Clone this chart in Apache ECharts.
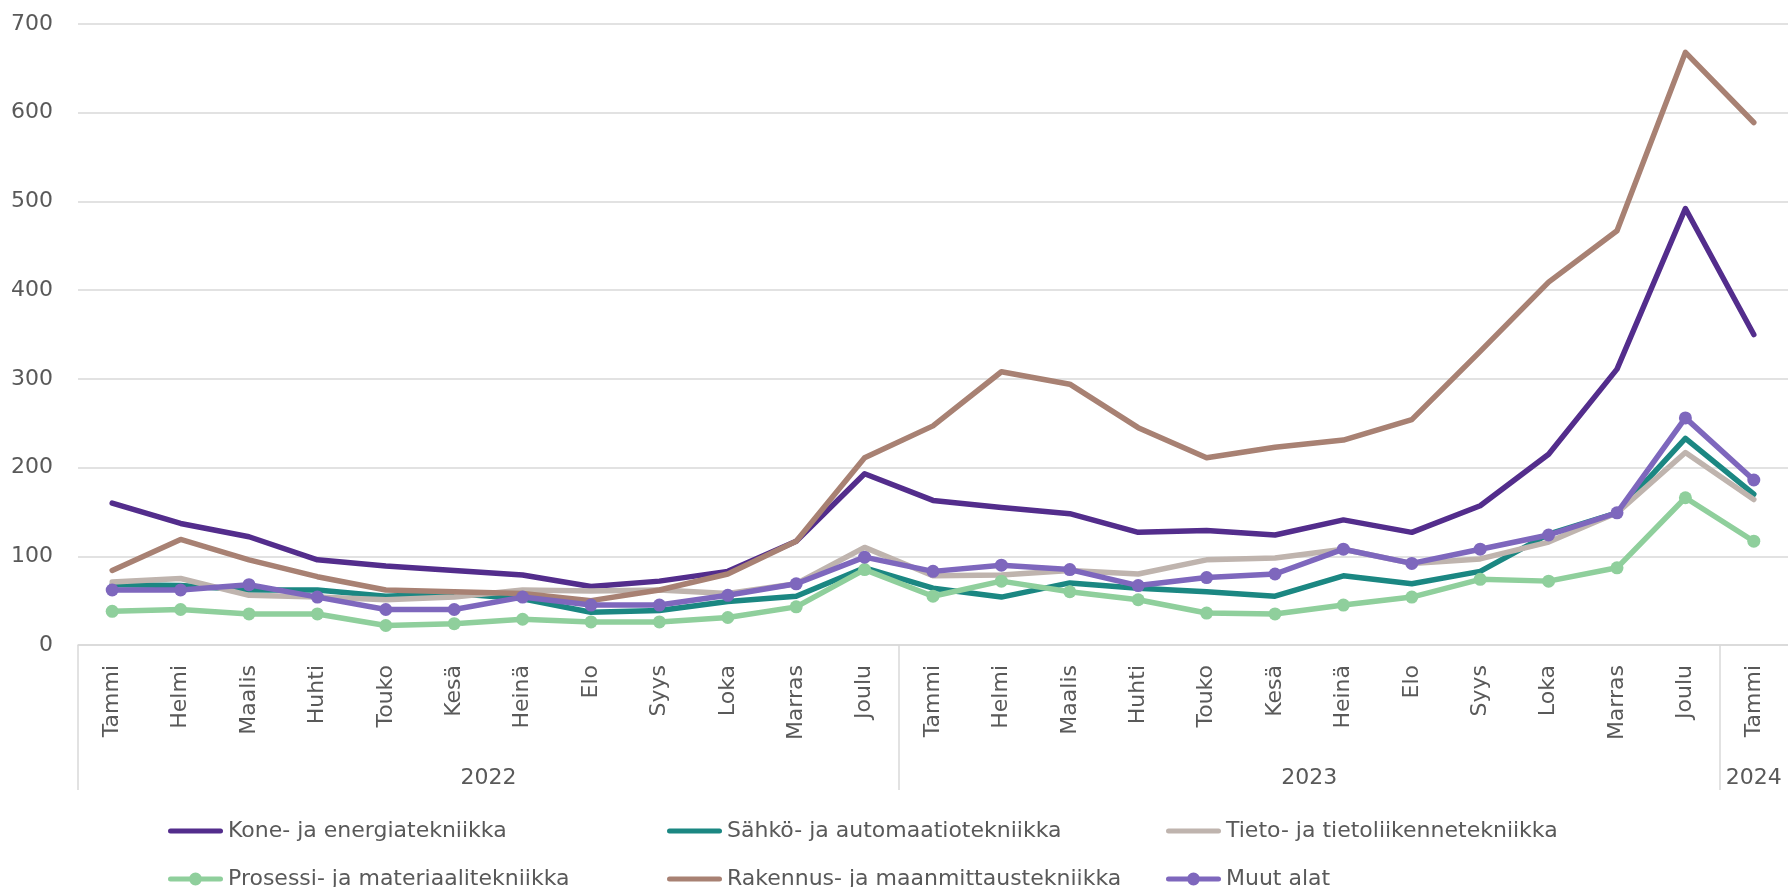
<!DOCTYPE html>
<html>
<head>
<meta charset="utf-8">
<script src="https://cdn.jsdelivr.net/npm/echarts@6/dist/echarts.min.js"></script>
<style>html,body{margin:0;padding:0;background:#fff}#c{width:1788px;height:887px}</style>
</head>
<body>
<div id="c"></div>
<script>
const months = ['Tammi','Helmi','Maalis','Huhti','Touko','Kesä','Heinä','Elo','Syys','Loka','Marras','Joulu',
                'Tammi','Helmi','Maalis','Huhti','Touko','Kesä','Heinä','Elo','Syys','Loka','Marras','Joulu',
                'Tammi'];
const years = ['2022','2023','2024'];
const yearMonthCounts = [12, 12, 1];
const yTicks = [0,100,200,300,400,500,600,700];

const kone     = [160,137,122,96,89,84,79,66,72,83,117,193,163,155,148,127,129,124,141,127,157,215,311,492,350];
const sahko    = [68,67,62,62,55,58,52,37,39,49,55,87,64,54,70,64,60,55,78,69,83,125,149,233,170];
const tieto    = [71,75,56,54,51,54,62,61,62,58,69,110,78,79,84,80,96,98,108,92,97,116,149,217,164];
const prosessi = [38,40,35,35,22,24,29,26,26,31,43,85,55,72,60,51,36,35,45,54,74,72,87,166,117];
const rakennus = [84,119,96,77,62,60,58,50,62,80,117,211,247,308,294,245,211,223,231,254,331,409,467,668,589];
const muut     = [62,62,68,54,40,40,54,45,45,56,69,99,83,90,85,67,76,80,108,92,108,124,149,256,186];

const names = ['Kone- ja energiatekniikka','Sähkö- ja automaatiotekniikka','Tieto- ja tietoliikennetekniikka',
               'Prosessi- ja materiaalitekniikka','Rakennus- ja maanmittaustekniikka','Muut alat'];

// year group geometry derived from counts
const yearCenters = [], yearBounds = [-0.5];
let start = 0;
yearMonthCounts.forEach(n => {
  yearCenters.push(n === 1 ? start : start + (n - 1) / 2);
  start += n;
  yearBounds.push(start - 0.5);
});
yearBounds.pop();

const FONT = 'DejaVu Sans';
const TXT = '#595959';
const GRID = '#d9d9d9';

const ICON_LINE = 'path://M2.5,0 L52.5,0 A2.5,2.5 0 0 1 52.5,5 L2.5,5 A2.5,2.5 0 0 1 2.5,0 Z';
const ICON_MARK = 'path://M2.5,10.5 L52.5,10.5 A2.5,2.5 0 0 1 52.5,15.5 L2.5,15.5 A2.5,2.5 0 0 1 2.5,10.5 Z ' +
                  'M21,13 A6.5,6.5 0 0 1 34,13 A6.5,6.5 0 0 1 21,13 Z';

function lineSeries(name, data, color, withMarker) {
  return {
    name, type: 'line', data, xAxisIndex: 0,
    symbol: withMarker ? 'circle' : 'none',
    symbolSize: 13,
    showSymbol: withMarker,
    lineStyle: { color, width: 5.5, cap: 'round', join: 'round' },
    itemStyle: { color },
    z: 3
  };
}

function legendAt(left, a, b) {
  return {
    orient: 'vertical', left, top: 813, height: 120, itemWidth: 55, itemHeight: 26, itemGap: 22,
    selectedMode: false,
    data: [a, b].map(i => ({ name: names[i], icon: (i === 3 || i === 5) ? ICON_MARK : ICON_LINE })),
    textStyle: { fontFamily: FONT, fontSize: 22, color: TXT, lineHeight: 26 }
  };
}

const chart = echarts.init(document.getElementById('c'), null, { renderer: 'canvas' });
chart.setOption({
  animation: false,
  backgroundColor: '#fff',
  grid: { left: 78, right: 0, top: 24, bottom: 242, containLabel: false },
  legend: [ legendAt(163, 0, 3), legendAt(662, 1, 4), legendAt(1161, 2, 5) ],
  xAxis: [
    {
      type: 'category', data: months, boundaryGap: true, position: 'bottom',
      axisLine: { show: true, lineStyle: { color: GRID, width: 1.5 } },
      axisTick: { show: false },
      axisLabel: { interval: 0, rotate: 90, margin: 20, fontFamily: FONT, fontSize: 22, color: TXT }
    },
    {
      type: 'value', min: -0.5, max: months.length - 0.5, position: 'bottom',
      axisLine: { show: false },
      splitLine: { show: false },
      axisTick: { show: true, customValues: yearBounds, length: 145, inside: false,
                  lineStyle: { color: GRID, width: 1.5 } },
      axisLabel: {
        customValues: yearCenters, margin: 122, fontFamily: FONT, fontSize: 22, color: TXT,
        formatter: v => years[yearCenters.indexOf(v)]
      }
    }
  ],
  yAxis: {
    type: 'value', min: yTicks[0], max: yTicks[yTicks.length - 1], interval: yTicks[1] - yTicks[0],
    axisLine: { show: false }, axisTick: { show: false },
    splitLine: { lineStyle: { color: GRID, width: 1.5 } },
    axisLabel: { margin: 25, fontFamily: FONT, fontSize: 22, color: TXT }
  },
  series: [
    lineSeries(names[0], kone, '#532d8c', false),
    lineSeries(names[1], sahko, '#1b8782', false),
    lineSeries(names[2], tieto, '#bfb4ae', false),
    lineSeries(names[3], prosessi, '#8fcf9c', true),
    lineSeries(names[4], rakennus, '#a88173', false),
    lineSeries(names[5], muut, '#7e67bd', true)
  ]
});
</script>
</body>
</html>
